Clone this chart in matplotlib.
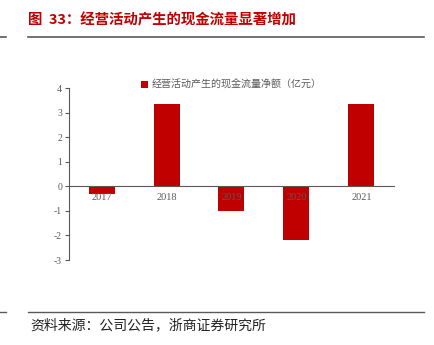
import matplotlib.pyplot as plt
import numpy as np

plt.rcParams['font.family'] = ['Noto Sans CJK SC', 'DejaVu Sans']

years = ['2017', '2018', '2019', '2020', '2021']
cashflow = [-0.3, 3.35, -1.0, -2.2, 3.35]
yticks = [-3, -2, -1, 0, 1, 2, 3, 4]

red = '#c00000'
grey = '#595959'

fig = plt.figure(figsize=(4.35, 3.45), dpi=100)
ax = fig.add_axes([69/435, 1-260/345, (394-69)/435, 172/345])

x = np.arange(len(years))
ax.bar(x, cashflow, width=0.4, color=red, label='经营活动产生的现金流量净额（亿元）', zorder=2)
ax.set_xlim(-0.5, 4.5)
ax.set_ylim(-3, 4)
ax.set_yticks(yticks)
ax.set_yticklabels([str(v) for v in yticks], family='Liberation Serif', fontsize=7, color=grey)
ax.set_xticks([])
for i, y in enumerate(years):
    ax.text(i, -0.28, y, ha='center', va='top', family='Liberation Serif', fontsize=7.5, color=grey, zorder=3)

ax.spines['top'].set_visible(False)
ax.spines['right'].set_visible(False)
ax.spines['bottom'].set_position(('data', 0))
ax.spines['bottom'].set_color(grey)
ax.spines['left'].set_color(grey)
ax.tick_params(axis='y', length=3, color=grey, pad=2)

ax.legend(loc='upper center', bbox_to_anchor=(0.5, 1.1), frameon=False, fontsize=7.2,
          handlelength=0.7, handleheight=0.7, handletextpad=0.4, labelcolor=grey)

# title and frame lines
fig.text(28/435, 1-20/345, '图  33：经营活动产生的现金流量显著增加', color=red, fontsize=10.4,
         fontweight='bold', va='center', ha='left')
fig.add_artist(plt.Line2D([28/435, 424/435], [1-37/345, 1-37/345], color=grey, lw=1.2))
fig.add_artist(plt.Line2D([0, 6/435], [1-37/345, 1-37/345], color=grey, lw=1.2))
fig.add_artist(plt.Line2D([28/435, 424/435], [1-312/345, 1-312/345], color=grey, lw=1.0))
fig.add_artist(plt.Line2D([0, 6/435], [1-312/345, 1-312/345], color=grey, lw=1.0))
fig.text(30/435, 1-325/345, '资料来源：公司公告，浙商证券研究所', color='#222222', fontsize=10,
         va='center', ha='left')

fig.savefig('out.png', dpi=100)
